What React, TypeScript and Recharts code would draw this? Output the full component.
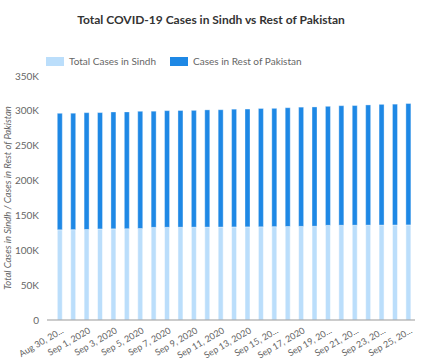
import React from 'react';
import { BarChart, Bar, XAxis, YAxis } from 'recharts';

const dates = [
  'Aug 30, 2020', 'Aug 31, 2020', 'Sep 1, 2020', 'Sep 2, 2020', 'Sep 3, 2020', 'Sep 4, 2020',
  'Sep 5, 2020', 'Sep 6, 2020', 'Sep 7, 2020', 'Sep 8, 2020', 'Sep 9, 2020', 'Sep 10, 2020',
  'Sep 11, 2020', 'Sep 12, 2020', 'Sep 13, 2020', 'Sep 14, 2020', 'Sep 15, 2020', 'Sep 16, 2020',
  'Sep 17, 2020', 'Sep 18, 2020', 'Sep 19, 2020', 'Sep 20, 2020', 'Sep 21, 2020', 'Sep 22, 2020',
  'Sep 23, 2020', 'Sep 24, 2020', 'Sep 25, 2020',
];

// tick text as it shows on the axis (long ones get cut)
const tickLabels: Record<string, string> = {
  'Aug 30, 2020': 'Aug 30, 20...',
  'Sep 15, 2020': 'Sep 15, 20...',
  'Sep 19, 2020': 'Sep 19, 20...',
  'Sep 21, 2020': 'Sep 21, 20...',
  'Sep 23, 2020': 'Sep 23, 20...',
  'Sep 25, 2020': 'Sep 25, 20...',
};

// thousands of cases
const sindhCases = [
  129.4, 129.6, 129.8, 130.6, 130.8, 131.0, 131.2, 132.9, 133.0, 133.1, 133.2, 133.3, 133.4,
  133.5, 133.6, 133.7, 133.9, 134.1, 134.3, 134.5, 135.8, 135.9, 136.0, 136.1, 136.2, 136.3, 136.4,
];
const restOfPakistan = [
  167.1, 167.0, 167.6, 166.9, 167.6, 167.5, 168.2, 166.6, 167.3, 167.4, 167.5, 168.1, 168.2,
  168.9, 169.0, 169.7, 169.7, 170.4, 171.0, 171.1, 170.7, 171.5, 171.6, 172.4, 173.1, 173.3, 174.1,
];

const yTicks = [0, 50000, 100000, 150000, 200000, 250000, 300000, 350000];

const data = dates.map((d, i) => ({
  date: d,
  sindh: sindhCases[i] * 1000,
  rest: restOfPakistan[i] * 1000,
}));

const FONT = 'Lato, "Noto Sans", sans-serif';
const LIGHT = '#BBDEFB';
const DARK = '#1E88E5';

const legendItems = [
  { label: 'Total Cases in Sindh', color: LIGHT },
  { label: 'Cases in Rest of Pakistan', color: DARK },
];

const DateTick = (props: any) => {
  const { x, y, payload } = props;
  const text = tickLabels[payload.value] ?? payload.value;
  return (
    <g transform={`translate(${x + 2},${y})`}>
      <text x={0} y={0} dy={5} textAnchor="end" fill="#666" fontSize={9} fontFamily={FONT} transform="rotate(-30)">
        {text}
      </text>
    </g>
  );
};

const fmtK = (v: number) => (v === 0 ? '0' : `${v / 1000}K`);

export default function App() {
  return (
    <div style={{ position: 'absolute', left: 0, top: 0, width: 422, height: 361, background: '#fff' }}>
      <div
        style={{
          position: 'absolute', top: 12, left: 0, width: 422, textAlign: 'center',
          fontFamily: FONT, fontWeight: 700, fontSize: 12, color: '#333',
        }}
      >
        Total COVID-19 Cases in Sindh vs Rest of Pakistan
      </div>
      <div
        style={{
          position: 'absolute', top: 55, left: 46, display: 'flex', alignItems: 'center',
          fontFamily: FONT, fontSize: 10, color: '#666',
        }}
      >
        {legendItems.map((item) => (
          <div key={item.label} style={{ display: 'flex', alignItems: 'center', marginRight: 14 }}>
            <span style={{ display: 'inline-block', width: 18, height: 9, background: item.color, marginRight: 5 }} />
            <span>{item.label}</span>
          </div>
        ))}
      </div>
      <BarChart
        width={422}
        height={361}
        data={data}
        margin={{ top: 76, right: 7, bottom: 0, left: 0 }}
        barCategoryGap="32%"
      >
        <XAxis
          dataKey="date"
          interval={1}
          tickLine={false}
          stroke="#999"
          height={41}
          padding={{ left: 6, right: 0 }}
          tick={<DateTick />}
        />
        <YAxis
          width={47}
          domain={[0, 350000]}
          ticks={yTicks}
          tickFormatter={fmtK}
          axisLine={false}
          tickLine={false}
          tick={{ fill: '#666', fontSize: 10, fontFamily: FONT }}
          label={{
            value: 'Total Cases in Sindh / Cases in Rest of Pakistan',
            angle: -90,
            position: 'insideLeft',
            offset: 8,
            style: { textAnchor: 'middle', fill: '#666', fontSize: 9.5, fontStyle: 'italic', fontFamily: FONT },
          }}
        />
        <Bar dataKey="sindh" name="Total Cases in Sindh" stackId="a" fill={LIGHT} stroke="#fff" strokeOpacity={0.5} isAnimationActive={false} />
        <Bar dataKey="rest" name="Cases in Rest of Pakistan" stackId="a" fill={DARK} stroke="#fff" strokeOpacity={0.35} isAnimationActive={false} />
      </BarChart>
    </div>
  );
}
